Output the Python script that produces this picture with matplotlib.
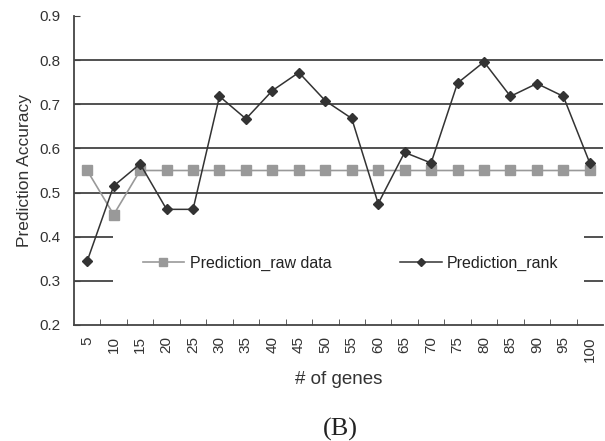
import matplotlib
matplotlib.use("Agg")
import matplotlib.pyplot as plt

genes = [5, 10, 15, 20, 25, 30, 35, 40, 45, 50, 55, 60, 65, 70, 75, 80, 85, 90, 95, 100]
raw_data = [0.55, 0.45, 0.55, 0.55, 0.55, 0.55, 0.55, 0.55, 0.55, 0.55,
            0.55, 0.55, 0.55, 0.55, 0.55, 0.55, 0.55, 0.55, 0.55, 0.55]
rank = [0.345, 0.515, 0.565, 0.462, 0.462, 0.718, 0.667, 0.731, 0.772, 0.708,
        0.668, 0.475, 0.591, 0.567, 0.748, 0.796, 0.718, 0.747, 0.718, 0.567]
yticks = [0.2, 0.3, 0.4, 0.5, 0.6, 0.7, 0.8, 0.9]

plt.rcParams['font.family'] = ['Liberation Sans', 'DejaVu Sans']

fig = plt.figure(figsize=(6.05, 4.41), dpi=100)
ax = fig.add_axes([74/605, 1-325/441, 529/605, 309/441])

x = list(range(len(genes)))
ax.set_xlim(-0.5, len(genes) - 0.5)
ax.set_ylim(0.2, 0.9)

# gridlines
for yv in yticks[1:-1]:
    ax.axhline(yv, color='#222222', lw=1.1, zorder=1)

# white legend area covering gridlines
ax.axhspan(0.27, 0.45, xmin=0.074, xmax=0.964, color='white', zorder=1.5, lw=0)

ax.plot(x, raw_data, color='#999999', lw=1.2, marker='s', ms=6.5,
        mfc='#999999', mec='#999999', zorder=3, label='Prediction_raw data')
ax.plot(x, rank, color='#333333', lw=1.1, marker='D', ms=5.5,
        mfc='#333333', mec='#333333', zorder=4, label='Prediction_rank')

leg = ax.legend(loc='center', bbox_to_anchor=(0.523, 0.2), ncol=2, frameon=False,
                fontsize=11.5, handlelength=2.6, handletextpad=0.35,
                columnspacing=4.3, markerscale=0.8)
for t in leg.get_texts():
    t.set_color('#222222')

ax.spines['top'].set_visible(False)
ax.spines['right'].set_visible(False)
ax.spines['left'].set_color('#444444')
ax.spines['bottom'].set_color('#444444')
ax.spines['left'].set_linewidth(1.3)
ax.spines['bottom'].set_linewidth(1.3)

ax.set_yticks(yticks)
ax.set_yticklabels([f'{v:.1f}' for v in yticks], fontsize=11, color='#333333')
ax.tick_params(axis='y', direction='in', length=4, color='#444444', pad=10)

ax.set_xticks(x)
ax.set_xticklabels([str(g) for g in genes], rotation=90, fontsize=11, color='#333333')
ax.tick_params(axis='x', length=0, pad=8)
ax.set_xticks([i + 0.5 for i in x[:-1]], minor=True)
ax.tick_params(axis='x', which='minor', direction='in', length=4, color='#444444')

ax.set_ylabel('Prediction Accuracy', fontsize=12.5, color='#333333', labelpad=5)
ax.set_xlabel('# of genes', fontsize=13.5, color='#333333', labelpad=7)

fig.text(340/605, 1-429/441, '(B)', ha='center', va='center', fontsize=19,
         family=['Liberation Serif', 'DejaVu Serif'], color='#222222')

fig.savefig('out.png', dpi=100, facecolor='white')
